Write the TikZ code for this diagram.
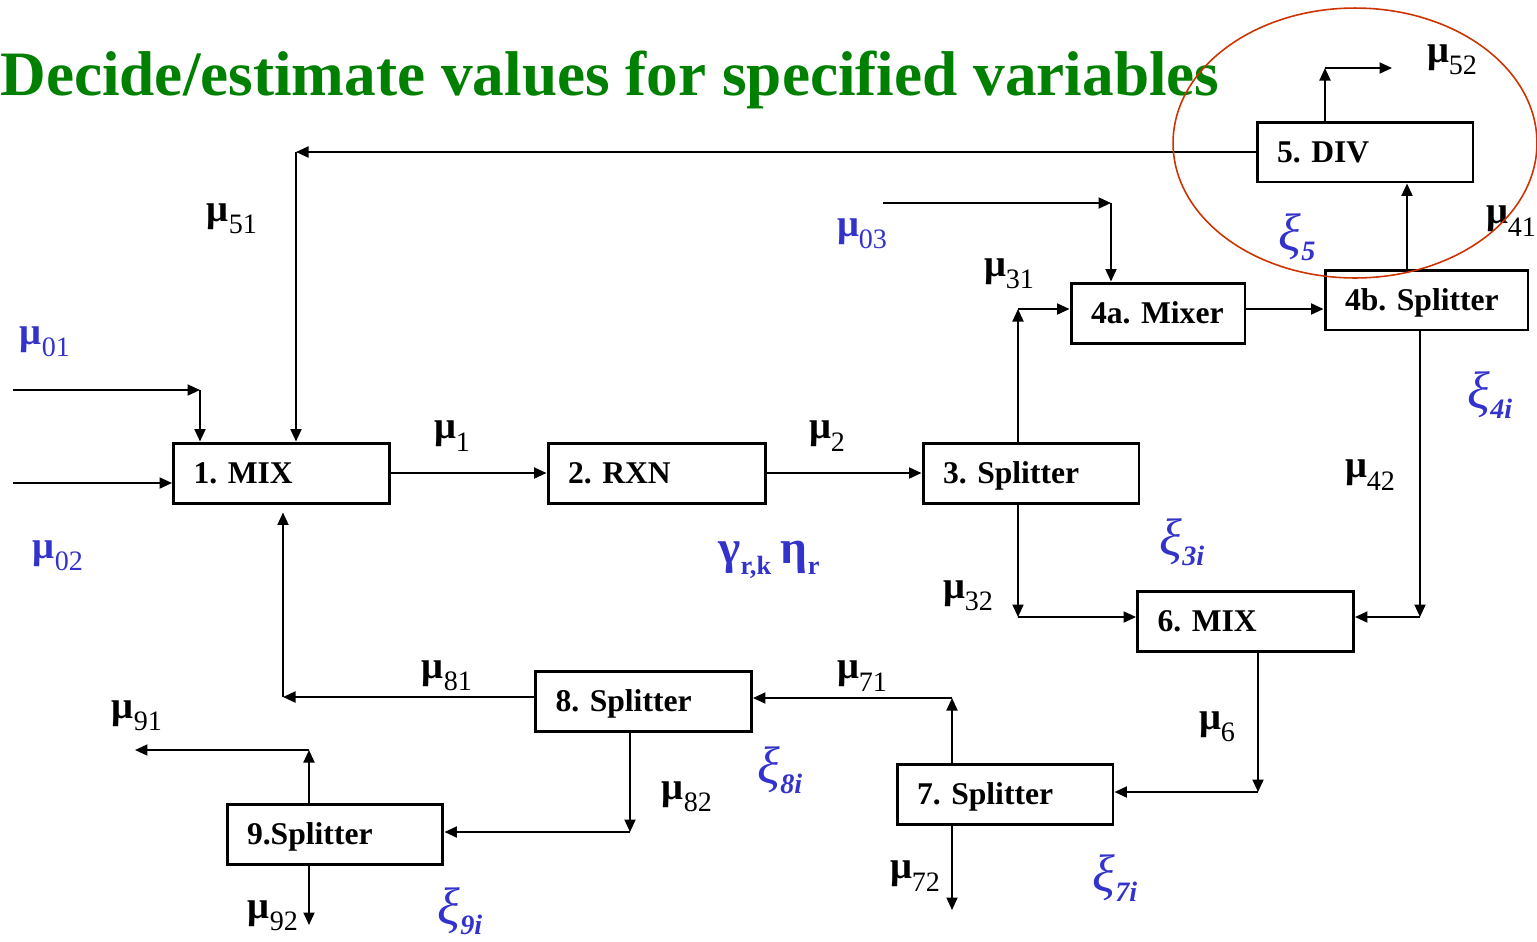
\documentclass[tikz,border=0pt]{standalone}
\usepackage{fontspec}
\setmainfont{Liberation Serif}
\usetikzlibrary{arrows.meta}
\frenchspacing
\definecolor{titlegreen}{RGB}{0,128,0}
\definecolor{varblue}{RGB}{51,51,204}
\definecolor{ringred}{RGB}{204,51,0}
\newcommand{\mulab}[1]{{\fontsize{22}{22}\selectfont\bfseries μ}\raisebox{-7pt}{\fontsize{16}{16}\selectfont #1}}
\newcommand{\xilab}[1]{{\fontsize{30}{30}\selectfont\itshape ξ}\raisebox{-6pt}{\fontsize{16}{16}\selectfont\bfseries\itshape #1}}
\tikzset{
  unit/.style={draw, line width=1.7pt, minimum height=1.2cm, inner xsep=0.4cm,
    text width=#1, align=left, text height=11.9pt, text depth=0pt,
    font=\fontsize{18}{18}\selectfont\bfseries},
  unit/.default=3.52cm,
  flow/.style={line width=1.1pt, -{Triangle[length=0.25cm,width=0.22cm]}},
  lab/.style={inner sep=0pt},
  given/.style={lab, text=varblue},
}
\begin{document}
\begin{tikzpicture}[x=0.02cm, y=-0.02cm]
\useasboundingbox (0,0) rectangle (1537,941);
\node[anchor=base west, inner sep=0pt, text=titlegreen, font=\fontsize{36}{36}\selectfont\bfseries] (title) at (0,95) {Decide/estimate values for specified variables};

% process units
\node[unit] (mix1) at (281.5,473) {1. MIX};
\node[unit=3.56cm] (rxn2) at (657,473) {2. RXN};
\node[unit] (spl3) at (1031,473) {3. Splitter};
\node[unit=2.68cm] (mix4a) at (1158,313) {4a. Mixer};
\node[unit=3.26cm] (spl4b) at (1426.5,300) {4b. Splitter};
\node[unit] (div5) at (1365,152) {5. DIV};
\node[unit] (mix6) at (1245.5,621) {6. MIX};
\node[unit] (spl7) at (1005,794.5) {7. Splitter};
\node[unit] (spl8) at (643.5,701) {8. Splitter};
\node[unit] (spl9) at (335,834.5) {9.Splitter};

% stream corners and free ends
\coordinate (in01) at (13,390);
\coordinate (c01) at (200,390);
\coordinate (in02) at (13,483);
\coordinate (c51) at (296,152);
\coordinate (in03) at (883,203);
\coordinate (c03) at (1111,203);
\coordinate (c31) at (1018,309);
\coordinate (c32) at (1018,617);
\coordinate (c41) at (1407,240);
\coordinate (c42) at (1420,617);
\coordinate (c52) at (1325,68);
\coordinate (out52) at (1392,68);
\coordinate (c6) at (1258,792);
\coordinate (c71) at (952,698);
\coordinate (out72) at (952,910);
\coordinate (c81) at (283,697);
\coordinate (c82) at (630,832);
\coordinate (c91) at (309,750);
\coordinate (out91) at (135,750);
\coordinate (out92) at (309,925);

\draw[flow] (in01) -- (c01);
\draw[flow] (c01) -- (c01 |- mix1.north);
\draw[flow] (in02) -- (in02 -| mix1.west);
\draw[flow] (div5.west) -- (c51);
\draw[flow] (c51) -- (c51 |- mix1.north);
\draw[flow] (mix1.east) -- (rxn2.west);
\draw[flow] (rxn2.east) -- (spl3.west);
\draw[flow] (spl3.north -| c31) -- (c31);
\draw[flow] (c31) -- (c31 -| mix4a.west);
\draw[flow] (in03) -- (c03);
\draw[flow] (c03) -- (c03 |- mix4a.north);
\draw[flow] (mix4a.east |- c31) -- (spl4b.west |- c31);
\draw[flow] (spl4b.north -| c41) -- (div5.south -| c41);
\draw[flow] (div5.north -| c52) -- (c52);
\draw[flow] (c52) -- (out52);
\draw[flow] (spl4b.south -| c42) -- (c42);
\draw[flow] (c42) -- (c42 -| mix6.east);
\draw[flow] (spl3.south -| c32) -- (c32);
\draw[flow] (c32) -- (c32 -| mix6.west);
\draw[flow] (mix6.south -| c6) -- (c6);
\draw[flow] (c6) -- (c6 -| spl7.east);
\draw[flow] (spl7.north -| c71) -- (c71);
\draw[flow] (c71) -- (c71 -| spl8.east);
\draw[flow] (spl7.south -| out72) -- (out72);
\draw[flow] (spl8.west |- c81) -- (c81);
\draw[flow, shorten >=0.16cm] (c81) -- (c81 |- mix1.south);
\draw[flow] (spl8.south -| c82) -- (c82);
\draw[flow] (c82) -- (c82 -| spl9.east);
\draw[flow] (spl9.north -| c91) -- (c91);
\draw[flow] (c91) -- (out91);
\draw[flow] (spl9.south -| out92) -- (out92);

% stream and unit variables
\node[given] (m01) at (45,342) {\mulab{01}};
\node[given] (m02) at (58,556) {\mulab{02}};
\node[given] (m03) at (862,234) {\mulab{03}};
\node[lab] (m1) at (452,436) {\mulab{1}};
\node[lab] (m2) at (827,436) {\mulab{2}};
\node[lab] (m31) at (1009,274) {\mulab{31}};
\node[lab] (m32) at (968,596) {\mulab{32}};
\node[lab] (m41) at (1511,221) {\mulab{41}};
\node[lab] (m42) at (1370,475) {\mulab{42}};
\node[lab] (m51) at (232,219) {\mulab{51}};
\node[lab] (m52) at (1452,60) {\mulab{52}};
\node[lab] (m6) at (1217,727) {\mulab{6}};
\node[lab] (m71) at (862,676) {\mulab{71}};
\node[lab] (m72) at (915,876) {\mulab{72}};
\node[lab] (m81) at (447,676) {\mulab{81}};
\node[lab] (m82) at (687,797) {\mulab{82}};
\node[lab] (m91) at (137,716) {\mulab{91}};
\node[lab] (m92) at (273,916) {\mulab{92}};
\node[given] (rate) at (769,560) {{\fontsize{27}{27}\selectfont\bfseries γ}\raisebox{-6pt}{\fontsize{15}{15}\selectfont\bfseries r,k}\hspace{3pt} {\fontsize{27}{27}\selectfont\bfseries η}\raisebox{-6pt}{\fontsize{15}{15}\selectfont\bfseries r}};
\node[given] (x3) at (1182,542) {\xilab{3i}};
\node[given] (x4) at (1490,395) {\xilab{4i}};
\node[given] (x5) at (1297,237) {\xilab{5}};
\node[given] (x7) at (1115,878) {\xilab{7i}};
\node[given] (x8) at (780,770) {\xilab{8i}};
\node[given] (x9) at (460,911) {\xilab{9i}};

\draw[ringred, line width=0.9pt] (1355,143) ellipse [x radius=3.64cm, y radius=2.7cm];
\end{tikzpicture}
\end{document}
